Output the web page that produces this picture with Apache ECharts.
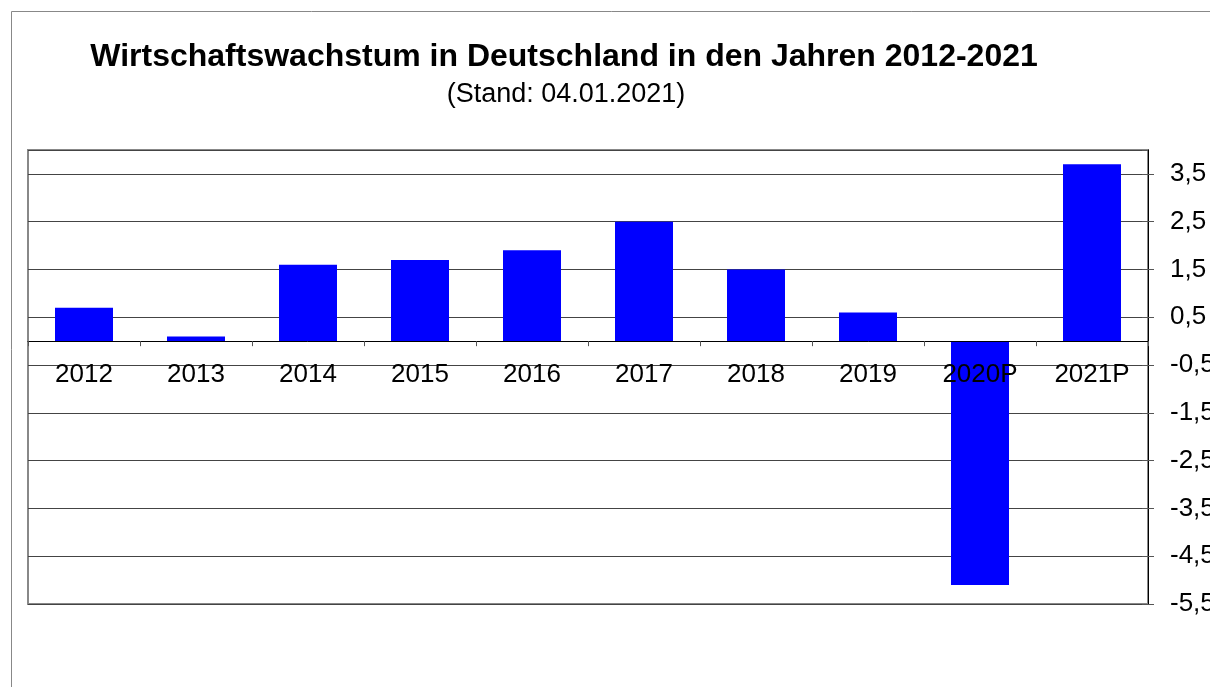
<!DOCTYPE html>
<html>
<head>
<meta charset="utf-8">
<script src="https://cdn.jsdelivr.net/npm/echarts@6/dist/echarts.min.js"></script>
<style>
  html, body { margin: 0; padding: 0; background: #fff; }
  #chart { width: 1210px; height: 687px; }
</style>
</head>
<body>
<div id="chart"></div>
<script>
const years = ['2012', '2013', '2014', '2015', '2016', '2017', '2018', '2019', '2020P', '2021P']
const growth = [0.7, 0.1, 1.6, 1.7, 1.9, 2.5, 1.5, 0.6, -5.1, 3.7]

const titleText = 'Wirtschaftswachstum in Deutschland in den Jahren 2012-2021'
const subText = '(Stand: 04.01.2021)'

const gridBottom = 83
const chartHeight = 687

const chart = echarts.init(document.getElementById('chart'))

const yScale = { min: -5.5, max: 4, interval: 1 }

const option = {
  animation: false,
  backgroundColor: '#fff',
  textStyle: { fontFamily: 'Liberation Sans, Arial, sans-serif' },
  title: [
    {
      text: titleText,
      left: 559,
      top: 36,
      textAlign: 'center',
      textStyle: { fontSize: 32, fontWeight: 'bold', color: '#000', fontFamily: 'Liberation Sans' }
    },
    {
      text: subText,
      left: 561,
      top: 76,
      textAlign: 'center',
      textStyle: { fontSize: 27, fontWeight: 'normal', color: '#000', fontFamily: 'Liberation Sans' }
    }
  ],
  graphic: [
    {
      type: 'rect',
      shape: { x: 11.5, y: 11.5, width: 1300, height: 800 },
      style: { fill: 'none', stroke: '#888', lineWidth: 1 },
      silent: true
    }
  ],
  grid: {
    left: 28,
    right: 62,
    top: 150,
    bottom: gridBottom,
    outerBoundsMode: 'none',
    containLabel: false,
    show: true,
    borderColor: '#888',
    borderWidth: 2
  },
  xAxis: {
    type: 'category',
    data: years,
    position: 'bottom',
    z: 5,
    axisLine: { onZero: false, lineStyle: { color: '#000', width: 1 } },
    axisTick: { show: true, alignWithLabel: false, length: 5, inside: false, lineStyle: { color: '#555' } },
    axisLabel: { fontSize: 26, color: '#000', margin: 21, fontFamily: 'Liberation Sans' }
  },
  yAxis: [
    {
      type: 'value',
      position: 'right',
      ...yScale,
      axisLine: { show: true, lineStyle: { color: '#000', width: 1 } },
      axisTick: { show: true, length: 6, lineStyle: { color: '#555' } },
      splitLine: { show: true, lineStyle: { color: '#444', width: 1 } },
      axisLabel: {
        fontSize: 26,
        color: '#000',
        margin: 22,
        showMaxLabel: false,
        fontFamily: 'Liberation Sans',
        formatter: v => v.toFixed(1).replace('.', ',')
      }
    },
    {
      // inner half of the crossing tick marks
      type: 'value',
      position: 'right',
      ...yScale,
      axisLine: { show: false },
      axisTick: { show: true, inside: true, length: 6, lineStyle: { color: '#555' } },
      splitLine: { show: false },
      axisLabel: { show: false }
    }
  ],
  series: [
    {
      type: 'bar',
      data: growth,
      barWidth: 58,
      yAxisIndex: 0,
      itemStyle: { color: '#0000ff' }
    }
  ]
}

chart.setOption(option)

// move the category axis (line, ticks, labels) up onto the zero line
const zeroY = chart.convertToPixel({ yAxisIndex: 0 }, 0)
const bottomY = chartHeight - gridBottom
chart.setOption({ xAxis: { offset: zeroY - bottomY } })
</script>
</body>
</html>
